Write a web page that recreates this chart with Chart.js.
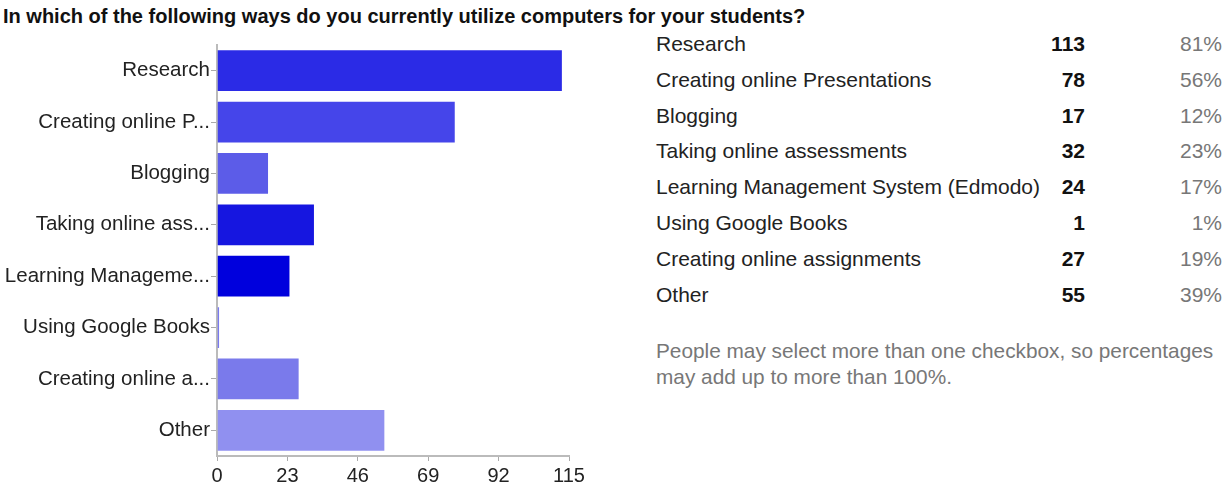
<!DOCTYPE html>
<html>
<head>
<meta charset="utf-8">
<script src="https://cdn.jsdelivr.net/npm/chart.js@4"></script>
<style>
  body { margin: 0; background: #fff; font-family: "Liberation Sans", Arial, sans-serif; }
  #title { position: absolute; left: 3px; top: 5px; font-size: 20px; font-weight: bold; color: #111; white-space: nowrap; }
  #wrap { position: absolute; left: 0; top: 31px; width: 620px; height: 456px; }
  #table { position: absolute; left: 656px; top: 31px; width: 566px; }
  .row { position: relative; height: 35.8px; font-size: 21px; color: #222; }
  .row span { position: absolute; top: 1px; }
  .cnt { right: 137px; font-weight: bold; color: #111; }
  .pct { right: 0; color: #777; }
  #note { position: absolute; left: 656px; top: 338px; font-size: 20.8px; color: #777; line-height: 26px; white-space: nowrap; }
</style>
</head>
<body>
<div id="title">In which of the following ways do you currently utilize computers for your students?</div>
<div id="wrap"><canvas id="myChart"></canvas></div>
<div id="table"></div>
<div id="note">People may select more than one checkbox, so percentages<br>may add up to more than 100%.</div>
<script>
var categories = ["Research", "Creating online Presentations", "Blogging", "Taking online assessments",
  "Learning Management System (Edmodo)", "Using Google Books", "Creating online assignments", "Other"];
var shortLabels = ["Research", "Creating online P...", "Blogging", "Taking online ass...",
  "Learning Manageme...", "Using Google Books", "Creating online a...", "Other"];
var counts = [113, 78, 17, 32, 24, 1, 27, 55];
var percents = ["81%", "56%", "12%", "23%", "17%", "1%", "19%", "39%"];
var xTicks = [0, 23, 46, 69, 92, 115];
var barColors = ["#2b2be6", "#4545ea", "#5c5ce8", "#1616e0", "#0000dd", "#7a7af0", "#7a7aeb", "#9090f0"];

// table on the right
var table = document.getElementById("table");
for (var i = 0; i < categories.length; i++) {
  var row = document.createElement("div");
  row.className = "row";
  row.innerHTML = '<span>' + categories[i] + '</span><span class="cnt">' + counts[i] +
    '</span><span class="pct">' + percents[i] + '</span>';
  table.appendChild(row);
}

var ctx = document.getElementById("myChart");
var myChart = new Chart(ctx, {
  type: 'bar',
  data: {
    labels: shortLabels,
    datasets: [{
      data: counts,
      backgroundColor: barColors,
      borderColor: "rgba(255,255,255,0.35)",
      borderWidth: 1,
      borderSkipped: 'left',
      barPercentage: 0.83,
      categoryPercentage: 1.0
    }]
  },
  options: {
    indexAxis: 'y',
    responsive: true,
    maintainAspectRatio: false,
    animation: false,
    layout: { padding: { top: 14, right: 51, left: 0, bottom: 0 } },
    plugins: { legend: { display: false }, tooltip: { enabled: false } },
    scales: {
      x: {
        min: 0,
        max: 115,
        afterBuildTicks: function(scale) {
          scale.ticks = xTicks.map(function(v) { return { value: v }; });
        },
        afterFit: function(scale) { scale.height = 31; },
        grid: { drawOnChartArea: false, color: "#aaa", tickLength: 5, tickWidth: 1 },
        border: { color: "#bbb", width: 2 },
        ticks: { color: "#222", font: { size: 20, family: "Liberation Sans" }, padding: 3, maxRotation: 0 }
      },
      y: {
        afterFit: function(scale) { scale.width = 217; },
        grid: { drawOnChartArea: false, color: "#aaa", tickLength: 6, tickWidth: 1, offset: false },
        border: { color: "#bbb", width: 2 },
        ticks: { color: "#222", font: { size: 20.5, family: "Liberation Sans" }, padding: 1, autoSkip: false }
      }
    }
  }
});
</script>
</body>
</html>
